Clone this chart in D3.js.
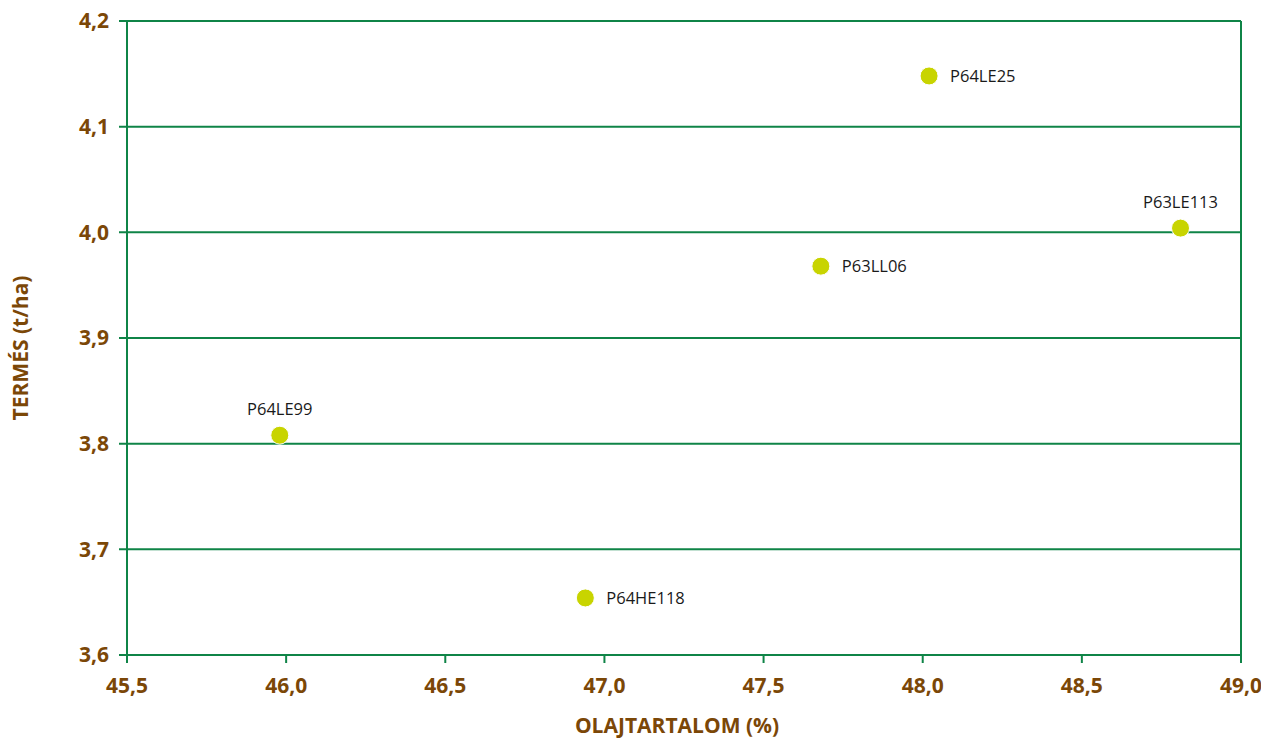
<!DOCTYPE html>
<html><head><meta charset="utf-8">
<script src="https://cdn.jsdelivr.net/npm/d3@7"></script>
<style>body{margin:0;background:#fff}</style>
</head><body>
<svg id="c" width="1261" height="738"></svg>
<script>
const names = ["P64LE25","P63LE113","P63LL06","P64LE99","P64HE118"];
const oil = [48.02, 48.81, 47.68, 45.98, 46.94];
const yieldV = [4.148, 4.004, 3.968, 3.808, 3.654];
const labelPos = ["right","top","right","top","right"];
const xTicks = [45.5,46.0,46.5,47.0,47.5,48.0,48.5,49.0];
const yTicks = [3.6,3.7,3.8,3.9,4.0,4.1,4.2];

const svg = d3.select("#c");
const M = {l:127, r:1241, t:21, b:655};
const x = d3.scaleLinear().domain([45.5,49.0]).range([M.l,M.r]);
const y = d3.scaleLinear().domain([3.6,4.2]).range([M.b,M.t]);
const green = "#0f8447", brown = "#7b4707";
const fmt = d => d.toFixed(1).replace(".", ",");

svg.append("g").selectAll("line").data(yTicks).join("line")
  .attr("x1", M.l-8).attr("x2", M.r).attr("y1", d=>y(d)).attr("y2", d=>y(d))
  .attr("stroke", green).attr("stroke-width", 2);
svg.append("line").attr("x1",M.l).attr("x2",M.l).attr("y1",M.t).attr("y2",M.b+8)
  .attr("stroke",green).attr("stroke-width",2);
svg.append("line").attr("x1",M.r).attr("x2",M.r).attr("y1",M.t).attr("y2",M.b+8)
  .attr("stroke",green).attr("stroke-width",2);
svg.append("g").selectAll("line").data(xTicks).join("line")
  .attr("x1", d=>x(d)).attr("x2", d=>x(d)).attr("y1", M.b).attr("y2", M.b+8)
  .attr("stroke", green).attr("stroke-width", 2);

const tf = "'Open Sans', 'Noto Sans', sans-serif";
svg.append("g").selectAll("text").data(yTicks).join("text")
  .attr("x", M.l-18).attr("y", d=>y(d)).attr("dy","0.35em")
  .attr("text-anchor","end").attr("font-family",tf).attr("font-weight","bold")
  .attr("font-size",21).attr("fill",brown).text(fmt);
svg.append("g").selectAll("text").data(xTicks).join("text")
  .attr("x", d=>x(d)).attr("y", M.b+38)
  .attr("text-anchor","middle").attr("font-family",tf).attr("font-weight","bold")
  .attr("font-size",21).attr("fill",brown).text(fmt);

svg.append("text").attr("x",677).attr("y",733).attr("text-anchor","middle")
  .attr("font-family",tf).attr("font-weight","bold").attr("font-size",21).attr("fill",brown)
  .text("OLAJTARTALOM (%)");
svg.append("text").attr("transform","translate(28,"+((M.t+M.b)/2+10)+") rotate(-90)")
  .attr("text-anchor","middle")
  .attr("font-family",tf).attr("font-weight","bold").attr("font-size",21).attr("fill",brown)
  .text("TERMÉS (t/ha)");

const data = names.map((n,i)=>({n, x:oil[i], y:yieldV[i], p:labelPos[i]}));
svg.append("g").selectAll("circle").data(data).join("circle")
  .attr("cx", d=>x(d.x)).attr("cy", d=>y(d.y)).attr("r",9)
  .attr("fill","#c8d400").attr("stroke","#fff").attr("stroke-width",1);
svg.append("g").selectAll("text").data(data).join("text")
  .attr("x", d=> d.p==="right" ? x(d.x)+21 : x(d.x))
  .attr("y", d=> d.p==="right" ? y(d.y) : y(d.y)-20)
  .attr("dy", d=> d.p==="right" ? "0.35em" : "0")
  .attr("text-anchor", d=> d.p==="right" ? "start" : "middle")
  .attr("font-family",tf).attr("font-size",16.5).attr("fill","#1a1a1a")
  .text(d=>d.n);
</script>
</body></html>
